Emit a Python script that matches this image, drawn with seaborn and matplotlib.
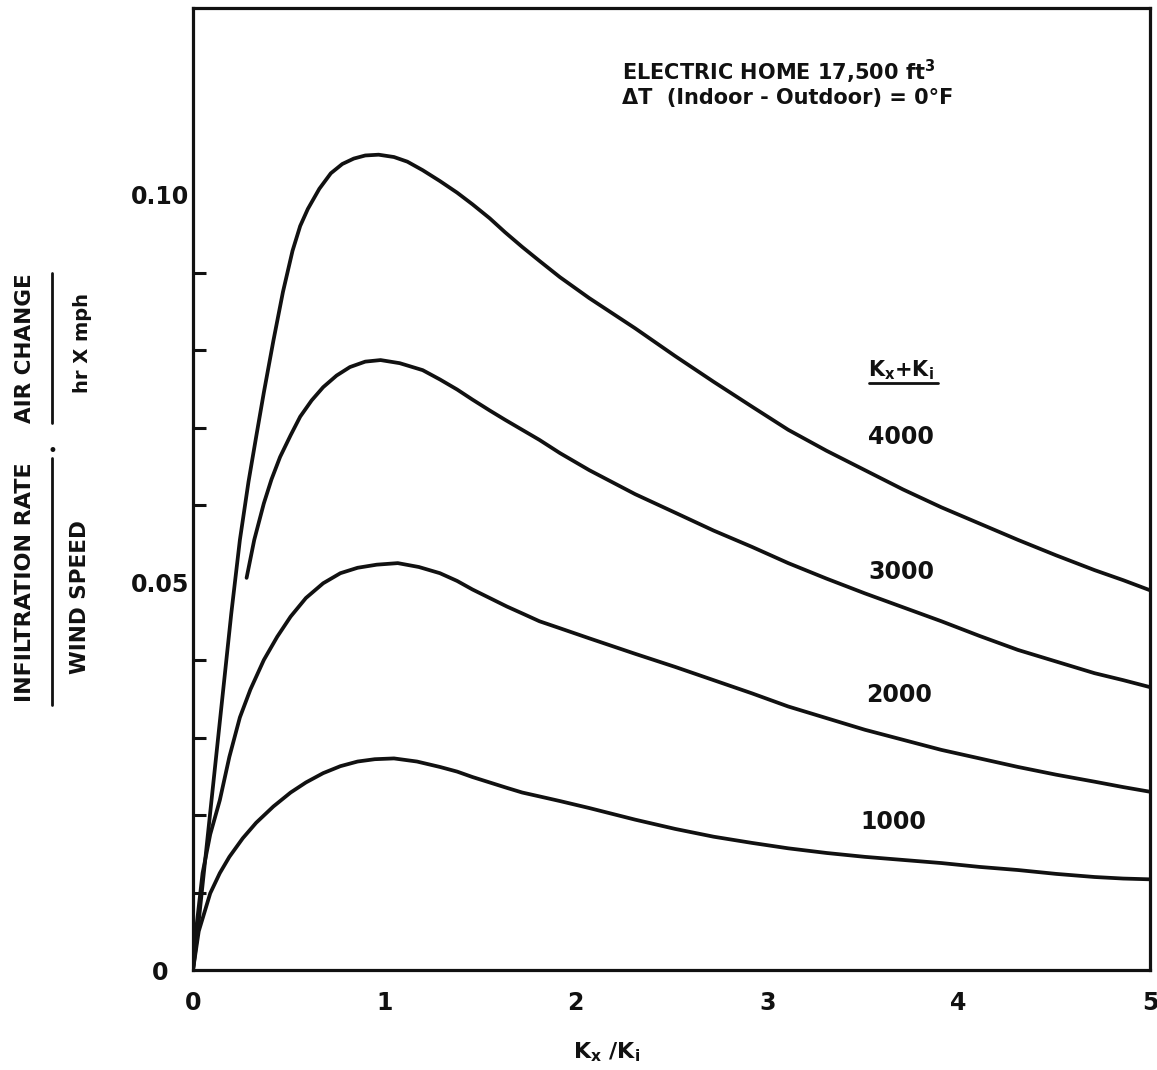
import numpy as np
import pandas as pd
import matplotlib
matplotlib.use("Agg")
import matplotlib.pyplot as plt
import seaborn as sns
from matplotlib.lines import Line2D

# ---------------- data ----------------
series_labels = ["4000", "3000", "2000", "1000"]

x_4000 = [0.0, 0.02, 0.08, 0.14, 0.20, 0.245, 0.29, 0.33, 0.37, 0.42, 0.47, 0.52, 0.56,
          0.60, 0.66, 0.72, 0.78, 0.84, 0.90, 0.97, 1.05, 1.12, 1.20, 1.29, 1.38, 1.46, 1.55,
          1.63, 1.72, 1.81, 1.917, 2.07, 2.31, 2.52, 2.72, 2.92, 3.11, 3.31, 3.51, 3.71,
          3.91, 4.11, 4.31, 4.51, 4.71, 4.86, 5.0]
y_4000 = [0.0, 0.004, 0.018, 0.032, 0.046, 0.0555, 0.0630, 0.0688, 0.0745, 0.0812, 0.0875,
          0.0928, 0.0960, 0.0982, 0.1008, 0.1028, 0.1040, 0.1047, 0.1051, 0.1052, 0.1049,
          0.1043, 0.1032, 0.1018, 0.1003, 0.0988, 0.0970, 0.0952, 0.0933, 0.0915, 0.0894,
          0.0867, 0.0828, 0.0792, 0.0759, 0.0727, 0.0697, 0.0670, 0.0645, 0.0620, 0.0597,
          0.0576, 0.0555, 0.0535, 0.0516, 0.0503, 0.0490]

x_3000 = [0.28, 0.32, 0.37, 0.41, 0.455, 0.51, 0.56, 0.62, 0.68, 0.75, 0.82, 0.90, 0.98,
          1.08, 1.20, 1.29, 1.38, 1.46, 1.55, 1.63, 1.72, 1.81, 1.917, 2.07, 2.31, 2.52,
          2.72, 2.92, 3.11, 3.31, 3.51, 3.71, 3.91, 4.11, 4.31, 4.51, 4.71, 4.86, 5.0]
y_3000 = [0.0506, 0.0555, 0.0602, 0.0633, 0.0662, 0.0690, 0.0714, 0.0735, 0.0752, 0.0767,
          0.0778, 0.0785, 0.0787, 0.0783, 0.0774, 0.0762, 0.0749, 0.0736, 0.0722, 0.0710,
          0.0697, 0.0684, 0.0667, 0.0645, 0.0614, 0.0590, 0.0567, 0.0546, 0.0525, 0.0505,
          0.0486, 0.0468, 0.0450, 0.0431, 0.0413, 0.0398, 0.0383, 0.0374, 0.0365]

x_2000 = [0.0, 0.02, 0.05, 0.09, 0.14, 0.19, 0.245, 0.30, 0.37, 0.44, 0.51, 0.59, 0.68,
          0.77, 0.86, 0.96, 1.07, 1.18, 1.29, 1.38, 1.46, 1.55, 1.64, 1.73, 1.81, 1.917,
          2.07, 2.31, 2.52, 2.72, 2.92, 3.11, 3.31, 3.51, 3.71, 3.91, 4.11, 4.31, 4.51,
          4.71, 4.86, 5.0]
y_2000 = [0.0, 0.0060, 0.0125, 0.0175, 0.0219, 0.0275, 0.0326, 0.0362, 0.0400, 0.0430,
          0.0456, 0.0480, 0.0499, 0.0512, 0.0519, 0.0523, 0.0525, 0.0520, 0.0512, 0.0502,
          0.0491, 0.0480, 0.0469, 0.0459, 0.0450, 0.0441, 0.0428, 0.0408, 0.0391, 0.0374,
          0.0357, 0.0340, 0.0325, 0.0310, 0.0297, 0.0284, 0.0273, 0.0262, 0.0252, 0.0243,
          0.0236, 0.0230]

x_1000 = [0.0, 0.03, 0.09, 0.14, 0.19, 0.26, 0.33, 0.42, 0.51, 0.59, 0.68, 0.77, 0.86,
          0.95, 1.05, 1.17, 1.29, 1.38, 1.46, 1.55, 1.64, 1.72, 1.81, 1.917, 2.07, 2.31,
          2.52, 2.72, 2.92, 3.11, 3.31, 3.51, 3.71, 3.91, 4.11, 4.31, 4.51, 4.71, 4.86, 5.0]
y_1000 = [0.0, 0.0050, 0.0099, 0.0125, 0.0146, 0.0170, 0.0190, 0.0211, 0.0229, 0.0242,
          0.0254, 0.0263, 0.0269, 0.0272, 0.0273, 0.0269, 0.0262, 0.0256, 0.0249, 0.0242,
          0.0235, 0.0229, 0.0224, 0.0218, 0.0209, 0.0194, 0.0182, 0.0172, 0.0164, 0.0157,
          0.0151, 0.0146, 0.0142, 0.0138, 0.0133, 0.0129, 0.0124, 0.0120, 0.0118, 0.0117]

x_ticks = [0, 1, 2, 3, 4, 5]
x_tick_labels = ["0", "1", "2", "3", "4", "5"]
y_major_ticks = [0.0, 0.05, 0.10]
y_major_labels = ["0", "0.05", "0.10"]
y_minor_ticks = [0.01, 0.02, 0.03, 0.04, 0.06, 0.07, 0.08, 0.09]

# ---------------- long-form table ----------------
frames = []
for lab, xs, ys in zip(series_labels, [x_4000, x_3000, x_2000, x_1000],
                       [y_4000, y_3000, y_2000, y_1000]):
    frames.append(pd.DataFrame({"x": xs, "y": ys, "series": lab}))
df = pd.concat(frames, ignore_index=True)

# ---------------- style ----------------
sns.set_theme(style="white")
plt.rcParams['font.family'] = ['DejaVu Sans']
plt.rcParams['mathtext.default'] = 'bf'

W, H = 1157, 1070
fig = plt.figure(figsize=(W / 100, H / 100), dpi=100)
fig.patch.set_facecolor("white")

def fx(px):
    return px / W

def fy(py):
    return 1 - py / H

ax = fig.add_axes([fx(193), fy(970), (1150 - 193) / W, (970 - 8) / H])
ax.set_facecolor("white")

sns.lineplot(data=df, x="x", y="y", hue="series", units="series", estimator=None,
             sort=False, palette={k: "#111111" for k in series_labels},
             linewidth=2.7, legend=False, ax=ax)
for ln in ax.get_lines():
    ln.set_solid_joinstyle("round")
    ln.set_solid_capstyle("round")

ax.set_xlim(0, 5)
ax.set_ylim(0, (970 - 8) / 7750)

for s in ax.spines.values():
    s.set_visible(True)
    s.set_color("#111111")
    s.set_linewidth(2.3)

ax.set_xticks(x_ticks)
ax.set_xticklabels(x_tick_labels)
ax.set_yticks(y_major_ticks)
ax.set_yticklabels(y_major_labels)
ax.set_yticks(y_minor_ticks, minor=True)

ax.tick_params(axis="x", which="major", direction="in", length=13, width=2.2,
               color="#111111", pad=15, labelsize=17)
ax.tick_params(axis="y", which="major", direction="in", length=17, width=2.2,
               color="#111111", pad=24, labelsize=17)
ax.tick_params(axis="y", which="minor", direction="in", length=9, width=2.2,
               color="#111111", left=True)
for lbl in ax.get_yticklabels():
    lbl.set_horizontalalignment("center")
for lbl in ax.get_xticklabels() + ax.get_yticklabels():
    lbl.set_fontweight("bold")
    lbl.set_color("#111111")

ax.set_xlabel("")
ax.set_ylabel("")
ax.grid(False)

# ---------------- series labels ----------------
ax.text(3.70, 0.0774, r"K$_{x}$+K$_{i}$", ha="center", va="center",
        fontsize=15, fontweight="bold", color="#111111")
ax.add_line(Line2D([3.53, 3.89], [0.0757, 0.0757], color="#111111", lw=2.0))
label_pos = {"4000": (3.70, 0.0688), "3000": (3.70, 0.0514),
             "2000": (3.69, 0.0355), "1000": (3.66, 0.0191)}
for lab in series_labels:
    px_, py_ = label_pos[lab]
    ax.text(px_, py_, lab, ha="center", va="center", fontsize=17,
            fontweight="bold", color="#111111")

# ---------------- header text ----------------
fig.text(fx(622), fy(72), r"ELECTRIC HOME 17,500 ft$^{3}$", ha="left", va="center",
         fontsize=15, fontweight="bold", color="#111111")
fig.text(fx(622), fy(98), "ΔT  (Indoor - Outdoor) = 0°F", ha="left", va="center",
         fontsize=15, fontweight="bold", color="#111111")

# ---------------- x label ----------------
fig.text(fx(607), fy(1052), r"K$_{x}$ /K$_{i}$", ha="center", va="center",
         fontsize=16, fontweight="bold", color="#111111")

# ---------------- composite y label ----------------
fig.text(fx(25), fy(582), "INFILTRATION RATE", rotation=90, ha="center", va="center",
         fontsize=16, fontweight="bold", color="#111111")
fig.text(fx(80), fy(597), "WIND SPEED", rotation=90, ha="center", va="center",
         fontsize=15.5, fontweight="bold", color="#111111")
fig.add_artist(Line2D([fx(52), fx(52)], [fy(458), fy(705)], color="#111111", lw=2.0))
fig.text(fx(52), fy(451), "•", ha="center", va="center", fontsize=12, color="#111111")
fig.text(fx(25), fy(348), "AIR CHANGE", rotation=90, ha="center", va="center",
         fontsize=15.5, fontweight="bold", color="#111111")
fig.add_artist(Line2D([fx(52), fx(52)], [fy(273), fy(423)], color="#111111", lw=2.0))
fig.text(fx(83), fy(343), "hr X mph", rotation=90, ha="center", va="center",
         fontsize=14, fontweight="bold", color="#111111")

fig.savefig("out.png", dpi=100, facecolor="white")
